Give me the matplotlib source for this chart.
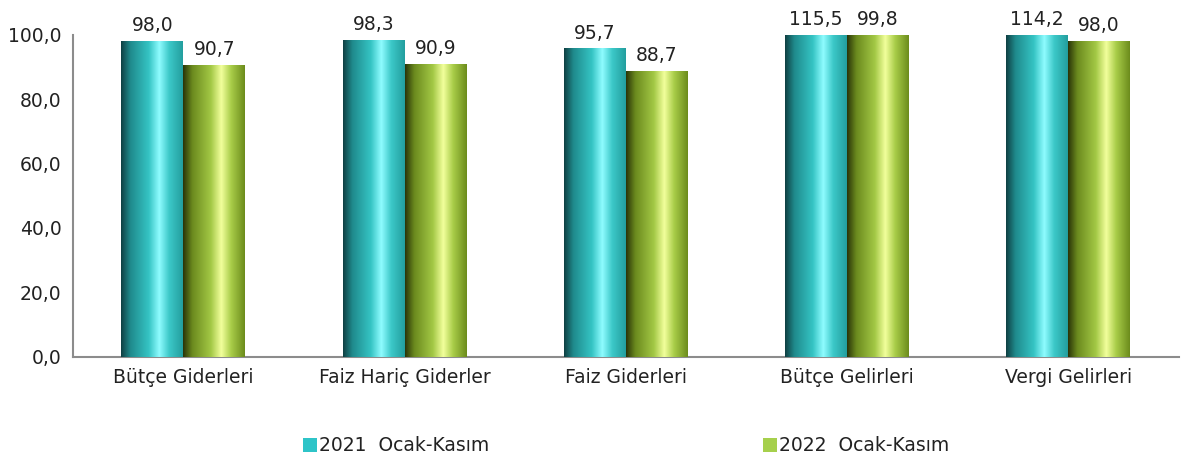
import numpy as np
import matplotlib.pyplot as plt
from matplotlib.colors import LinearSegmentedColormap

categories = ["Bütçe Giderleri", "Faiz Hariç Giderler", "Faiz Giderleri",
              "Bütçe Gelirleri", "Vergi Gelirleri"]
vals_2021 = [98.0, 98.3, 95.7, 115.5, 114.2]
vals_2022 = [90.7, 90.9, 88.7, 99.8, 98.0]
series_names = ["2021  Ocak-Kasım", "2022  Ocak-Kasım"]
yticks = [0, 20, 40, 60, 80, 100]

teal_cmap = LinearSegmentedColormap.from_list(
    "teal", [(0, "#0f3f42"), (0.15, "#1f8a8c"), (0.45, "#35c4c4"),
             (0.62, "#8ffcff"), (0.78, "#3cc8c8"), (1, "#239e9e")])
green_cmap = LinearSegmentedColormap.from_list(
    "green", [(0, "#2a3408"), (0.15, "#6b8a1e"), (0.45, "#a3c845"),
              (0.62, "#f2ff9c"), (0.78, "#a8cc48"), (1, "#6c8c1c")])

plt.rcParams['font.family'] = ['DejaVu Sans']
fig, ax = plt.subplots(figsize=(11.93, 4.62), dpi=100)
fig.subplots_adjust(left=0.061, right=0.988, top=0.925, bottom=0.228)

x = np.arange(len(categories))
w = 0.28
fs = 13.5
grad = np.linspace(0, 1, 256).reshape(1, -1)

def gradient_bars(xs, vals, cmap, legend_color, label):
    bars = ax.bar(xs, np.minimum(vals, 100), w, color=legend_color,
                  label=label, zorder=2)
    for b in bars:
        x0 = b.get_x()
        h = b.get_height()
        im = ax.imshow(grad, cmap=cmap, aspect="auto",
                       extent=[x0, x0 + w, 0, h], zorder=3)
        im.set_clip_path(b)
    for xi, v in zip(xs, vals):
        ax.text(xi, min(v, 100) + 1.8, f"{v:.1f}".replace(".", ","),
                ha="center", va="bottom", fontsize=fs, color="#222222")
    return bars

gradient_bars(x - w / 2, vals_2021, teal_cmap, "#2ec4c8", series_names[0])
gradient_bars(x + w / 2, vals_2022, green_cmap, "#a6d04c", series_names[1])

ax.set_xlim(-0.5, len(categories) - 0.5)
ax.set_ylim(0, 100)
ax.set_yticks(yticks)
ax.set_yticklabels([f"{t:.1f}".replace(".", ",") for t in yticks])
ax.set_xticks(x)
ax.set_xticklabels(categories)
ax.tick_params(axis="both", length=0, labelsize=fs, colors="#222222", pad=8)
for s in ["top", "right"]:
    ax.spines[s].set_visible(False)
for s in ["left", "bottom"]:
    ax.spines[s].set_color("#8c8c8c")
    ax.spines[s].set_linewidth(1.5)

leg = ax.legend(loc="upper center", bbox_to_anchor=(0.5, -0.195), ncol=2,
                frameon=False, fontsize=fs, handlelength=0.75,
                handleheight=0.75, handletextpad=0.1, columnspacing=14.6)
for t in leg.get_texts():
    t.set_color("#222222")

fig.savefig("out.png", dpi=100)
